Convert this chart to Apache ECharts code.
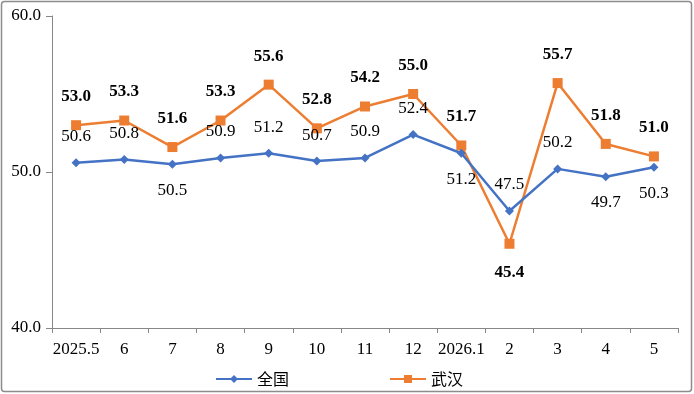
<!DOCTYPE html>
<html>
<head>
<meta charset="utf-8">
<script src="https://cdn.jsdelivr.net/npm/echarts@6/dist/echarts.min.js"></script>
<style>
html,body{margin:0;padding:0;background:#fff;}
#main{width:694px;height:394px;}
</style>
</head>
<body>
<div id="main"></div>
<script>
// 数据
var months = ['2025.5','6','7','8','9','10','11','12','2026.1','2','3','4','5'];
var quanguo = [50.6, 50.8, 50.5, 50.9, 51.2, 50.7, 50.9, 52.4, 51.2, 47.5, 50.2, 49.7, 50.3];
var wuhan = [53.0, 53.3, 51.6, 53.3, 55.6, 52.8, 54.2, 55.0, 51.7, 45.4, 55.7, 51.8, 51.0];
// 标签位置
var qgPos = ['top','top','bottom','top','top','top','top','top','bottom','top','top','bottom','bottom'];
var whPos = ['top','top','top','top','top','top','top','top','top','bottom','top','top','top'];

var fontSerif = '"Times New Roman","Liberation Serif","DejaVu Serif",serif';

function build(vals, pos, dist) {
    return vals.map(function (v, i) {
        return { value: v, label: { position: pos[i], distance: dist } };
    });
}

var myChart = echarts.init(document.getElementById('main'));
var option = {
    animation: false,
    graphic: [{
        type: 'rect',
        shape: { x: 1.5, y: 1.5, width: 690, height: 390, r: 3 },
        style: { fill: 'none', stroke: '#8c8c8c', lineWidth: 1.5 },
        silent: true
    }],
    grid: { left: 52, right: 16, top: 16, bottom: 66 },
    legend: {
        left: 210,
        top: 366,
        itemWidth: 36,
        itemHeight: 10,
        itemGap: 100,
        textStyle: { fontFamily: '"Noto Sans CJK SC",sans-serif', fontSize: 16, color: '#000' },
        data: ['全国', '武汉']
    },
    xAxis: {
        type: 'category',
        data: months,
        boundaryGap: true,
        axisLine: { lineStyle: { color: '#888', width: 1 } },
        axisTick: { show: true, length: 5, lineStyle: { color: '#888' } },
        axisLabel: { color: '#000', fontFamily: fontSerif, fontSize: 17, margin: 13, interval: 0 }
    },
    yAxis: {
        type: 'value',
        min: 40,
        max: 60,
        interval: 10,
        axisLine: { show: true, lineStyle: { color: '#888', width: 1 } },
        axisTick: { show: true, length: 6, lineStyle: { color: '#888' } },
        splitLine: { show: false },
        axisLabel: {
            color: '#000', fontFamily: fontSerif, fontSize: 17, margin: 11,
            formatter: function (v) { return v.toFixed(1); }
        }
    },
    series: [{
        name: '全国',
        type: 'line',
        data: build(quanguo, qgPos, 13),
        symbol: 'diamond',
        symbolSize: 9,
        lineStyle: { color: '#4472C4', width: 2.5 },
        itemStyle: { color: '#4472C4' },
        label: {
            show: true,
            color: '#000',
            fontFamily: fontSerif,
            fontSize: 17,
            formatter: function (p) { return p.value.toFixed(1); }
        },
        z: 3
    }, {
        name: '武汉',
        type: 'line',
        data: build(wuhan, whPos, 15),
        symbol: 'rect',
        symbolSize: 10,
        lineStyle: { color: '#ED7D31', width: 2.5 },
        itemStyle: { color: '#ED7D31' },
        label: {
            show: true,
            color: '#000',
            fontFamily: fontSerif,
            fontSize: 17,
            fontWeight: 'bold',
            formatter: function (p) { return p.value.toFixed(1); }
        },
        z: 2
    }]
};
myChart.setOption(option);
</script>
</body>
</html>
